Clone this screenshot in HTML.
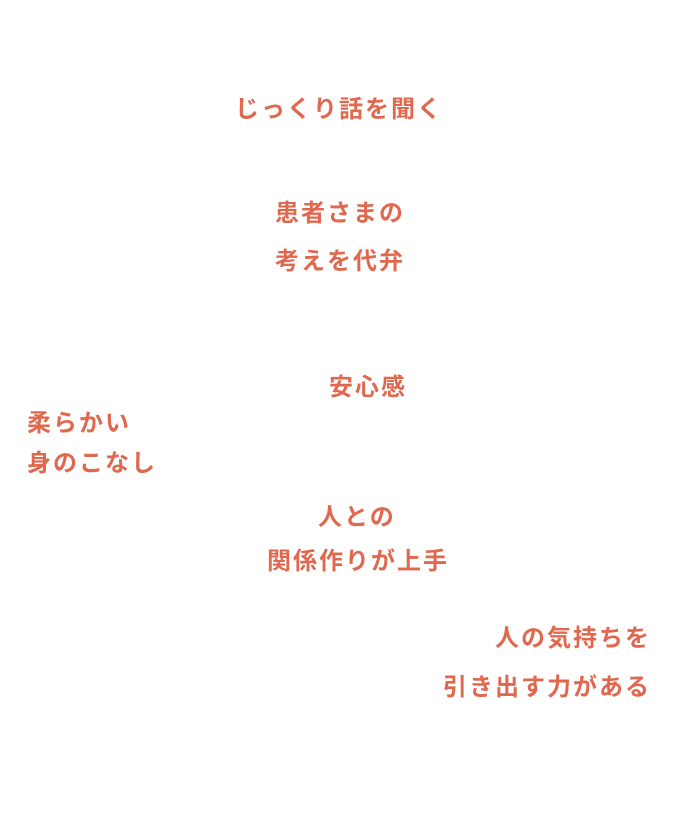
<!DOCTYPE html>
<html><head><meta charset="utf-8">
<style>
html,body{margin:0;padding:0;background:#fff;}
body{width:692px;height:822px;position:relative;overflow:hidden;}
.t{position:absolute;white-space:nowrap;font-family:"Liberation Sans","Noto Sans CJK JP",sans-serif;font-weight:700;font-size:24px;line-height:24px;letter-spacing:2px;color:#e0684f;}
</style></head><body>
<div class="t" style="left:235px;top:98px;">じっくり話を聞く</div>
<div class="t" style="left:275px;top:202px;">患者さまの</div>
<div class="t" style="left:275px;top:250px;">考えを代弁</div>
<div class="t" style="left:329px;top:376px;">安心感</div>
<div class="t" style="left:27px;top:412px;">柔らかい</div>
<div class="t" style="left:27px;top:452px;">身のこなし</div>
<div class="t" style="left:318px;top:506px;">人との</div>
<div class="t" style="left:267px;top:550px;">関係作りが上手</div>
<div class="t" style="left:495px;top:627px;">人の気持ちを</div>
<div class="t" style="left:443px;top:676px;">引き出す力がある</div>
</body></html>
